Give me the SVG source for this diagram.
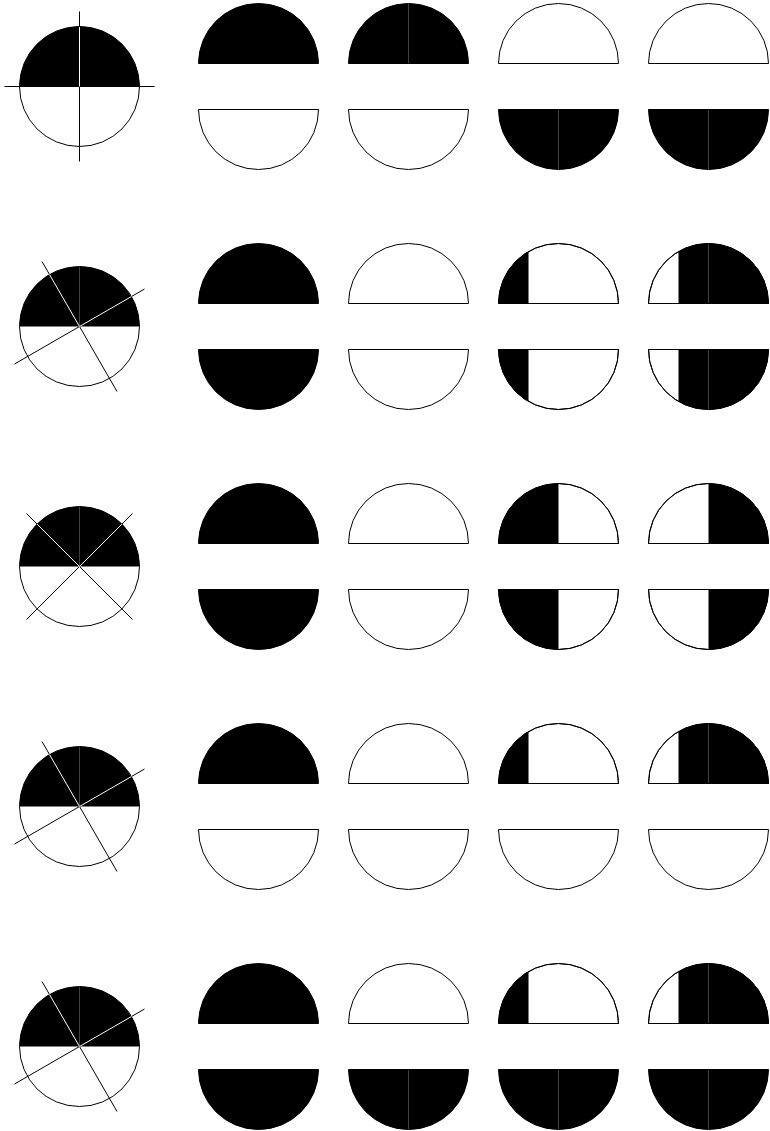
<svg xmlns="http://www.w3.org/2000/svg" width="770" height="1131" viewBox="0 0 770 1131">
<style>
.k{fill:#000;stroke:none}
.o{fill:none;stroke:#000;stroke-width:1}
.w{fill:#fff;stroke:#000;stroke-width:1}
.ln{fill:none;stroke:#000;stroke-width:1}
.wl{fill:none;stroke:#fff;stroke-width:1}
</style>
<defs>
<path id="tF" d="M-60,0A60,60 0 0 1 60,0Z"/>
<path id="tA" d="M-60,0A60,60 0 0 1 -30,-51.96L-30,0Z"/>
<path id="tB" d="M-30,0L-30,-51.96A60,60 0 0 1 0,-60L0,0Z"/>
<path id="tL" d="M-60,0A60,60 0 0 1 0,-60L0,0Z"/>
<path id="tR" d="M0,0L0,-60A60,60 0 0 1 60,0Z"/>
</defs>
<rect width="770" height="1131" fill="#fff"/>

<!-- Row 1 -->
<g id="r1-circle" transform="translate(79.5,86.5)">
<circle r="60" class="w"/>
<use href="#tL" class="k"/><use href="#tR" class="k"/>
<path class="ln" d="M-75,0H75M0,-75V75"/>
<path class="wl" d="M0,0V-59.5"/>
</g>
<g id="r1c1t" transform="translate(258.5,63.5)"><use href="#tF" class="k"/><use href="#tF" class="o"/></g>
<g id="r1c1b" transform="translate(258.5,109.5) scale(1,-1)"><use href="#tF" class="w"/></g>
<g id="r1c2t" transform="translate(408.5,63.5)"><use href="#tL" class="k"/><use href="#tR" class="k"/><use href="#tF" class="o"/></g>
<g id="r1c2b" transform="translate(408.5,109.5) scale(1,-1)"><use href="#tF" class="w"/></g>
<g id="r1c3t" transform="translate(558.5,63.5)"><use href="#tF" class="w"/></g>
<g id="r1c3b" transform="translate(558.5,109.5) scale(1,-1)"><use href="#tL" class="k"/><use href="#tR" class="k"/><use href="#tF" class="o"/></g>
<g id="r1c4t" transform="translate(708.5,63.5)"><use href="#tF" class="w"/></g>
<g id="r1c4b" transform="translate(708.5,109.5) scale(1,-1)"><use href="#tL" class="k"/><use href="#tR" class="k"/><use href="#tF" class="o"/></g>

<!-- Row 2 -->
<g id="r2-circle" transform="translate(79.5,326.5)">
<circle r="60" class="w"/>
<use href="#tL" class="k"/><use href="#tR" class="k"/>
<path class="ln" d="M-37.5,-65L37.5,65M-65,37.5L65,-37.5"/>
<path class="wl" d="M0,0L-30,-51.96M0,0L51.96,-30"/>
</g>
<g id="r2c1t" transform="translate(258.5,303.5)"><use href="#tF" class="k"/><use href="#tF" class="o"/></g>
<g id="r2c1b" transform="translate(258.5,349.5) scale(1,-1)"><use href="#tF" class="k"/><use href="#tF" class="o"/></g>
<g id="r2c2t" transform="translate(408.5,303.5)"><use href="#tF" class="w"/></g>
<g id="r2c2b" transform="translate(408.5,349.5) scale(1,-1)"><use href="#tF" class="w"/></g>
<g id="r2c3t" transform="translate(558.5,303.5)"><use href="#tF" class="w"/><use href="#tA" class="k"/><use href="#tF" class="o"/></g>
<g id="r2c3b" transform="translate(558.5,349.5) scale(1,-1)"><use href="#tF" class="w"/><use href="#tA" class="k"/><use href="#tF" class="o"/></g>
<g id="r2c4t" transform="translate(708.5,303.5)"><use href="#tF" class="w"/><use href="#tB" class="k"/><use href="#tR" class="k"/><use href="#tF" class="o"/></g>
<g id="r2c4b" transform="translate(708.5,349.5) scale(1,-1)"><use href="#tF" class="w"/><use href="#tB" class="k"/><use href="#tR" class="k"/><use href="#tF" class="o"/></g>

<!-- Row 3 -->
<g id="r3-circle" transform="translate(79.5,566.5)">
<circle r="60" class="w"/>
<use href="#tL" class="k"/><use href="#tR" class="k"/>
<path class="ln" d="M-53,-53L53,53M-53,53L53,-53"/>
<path class="wl" d="M0,0L-42.4,-42.4M0,0L42.4,-42.4"/>
</g>
<g id="r3c1t" transform="translate(258.5,543.5)"><use href="#tF" class="k"/><use href="#tF" class="o"/></g>
<g id="r3c1b" transform="translate(258.5,589.5) scale(1,-1)"><use href="#tF" class="k"/><use href="#tF" class="o"/></g>
<g id="r3c2t" transform="translate(408.5,543.5)"><use href="#tF" class="w"/></g>
<g id="r3c2b" transform="translate(408.5,589.5) scale(1,-1)"><use href="#tF" class="w"/></g>
<g id="r3c3t" transform="translate(558.5,543.5)"><use href="#tF" class="w"/><use href="#tL" class="k"/><use href="#tF" class="o"/></g>
<g id="r3c3b" transform="translate(558.5,589.5) scale(1,-1)"><use href="#tF" class="w"/><use href="#tL" class="k"/><use href="#tF" class="o"/></g>
<g id="r3c4t" transform="translate(708.5,543.5)"><use href="#tF" class="w"/><use href="#tR" class="k"/><use href="#tF" class="o"/></g>
<g id="r3c4b" transform="translate(708.5,589.5) scale(1,-1)"><use href="#tF" class="w"/><use href="#tR" class="k"/><use href="#tF" class="o"/></g>

<!-- Row 4 -->
<g id="r4-circle" transform="translate(79.5,806.5)">
<circle r="60" class="w"/>
<use href="#tL" class="k"/><use href="#tR" class="k"/>
<path class="ln" d="M-37.5,-65L37.5,65M-65,37.5L65,-37.5"/>
<path class="wl" d="M0,0L-30,-51.96M0,0L51.96,-30"/>
</g>
<g id="r4c1t" transform="translate(258.5,783.5)"><use href="#tF" class="k"/><use href="#tF" class="o"/></g>
<g id="r4c1b" transform="translate(258.5,829.5) scale(1,-1)"><use href="#tF" class="w"/></g>
<g id="r4c2t" transform="translate(408.5,783.5)"><use href="#tF" class="w"/></g>
<g id="r4c2b" transform="translate(408.5,829.5) scale(1,-1)"><use href="#tF" class="w"/></g>
<g id="r4c3t" transform="translate(558.5,783.5)"><use href="#tF" class="w"/><use href="#tA" class="k"/><use href="#tF" class="o"/></g>
<g id="r4c3b" transform="translate(558.5,829.5) scale(1,-1)"><use href="#tF" class="w"/></g>
<g id="r4c4t" transform="translate(708.5,783.5)"><use href="#tF" class="w"/><use href="#tB" class="k"/><use href="#tR" class="k"/><use href="#tF" class="o"/></g>
<g id="r4c4b" transform="translate(708.5,829.5) scale(1,-1)"><use href="#tF" class="w"/></g>

<!-- Row 5 -->
<g id="r5-circle" transform="translate(79.5,1046.5)">
<circle r="60" class="w"/>
<use href="#tL" class="k"/><use href="#tR" class="k"/>
<path class="ln" d="M-37.5,-65L37.5,65M-65,37.5L65,-37.5"/>
<path class="wl" d="M0,0L-30,-51.96M0,0L51.96,-30"/>
</g>
<g id="r5c1t" transform="translate(258.5,1023.5)"><use href="#tF" class="k"/><use href="#tF" class="o"/></g>
<g id="r5c1b" transform="translate(258.5,1069.5) scale(1,-1)"><use href="#tF" class="k"/><use href="#tF" class="o"/></g>
<g id="r5c2t" transform="translate(408.5,1023.5)"><use href="#tF" class="w"/></g>
<g id="r5c2b" transform="translate(408.5,1069.5) scale(1,-1)"><use href="#tL" class="k"/><use href="#tR" class="k"/><use href="#tF" class="o"/></g>
<g id="r5c3t" transform="translate(558.5,1023.5)"><use href="#tF" class="w"/><use href="#tA" class="k"/><use href="#tF" class="o"/></g>
<g id="r5c3b" transform="translate(558.5,1069.5) scale(1,-1)"><use href="#tL" class="k"/><use href="#tR" class="k"/><use href="#tF" class="o"/></g>
<g id="r5c4t" transform="translate(708.5,1023.5)"><use href="#tF" class="w"/><use href="#tB" class="k"/><use href="#tR" class="k"/><use href="#tF" class="o"/></g>
<g id="r5c4b" transform="translate(708.5,1069.5) scale(1,-1)"><use href="#tL" class="k"/><use href="#tR" class="k"/><use href="#tF" class="o"/></g>
</svg>
